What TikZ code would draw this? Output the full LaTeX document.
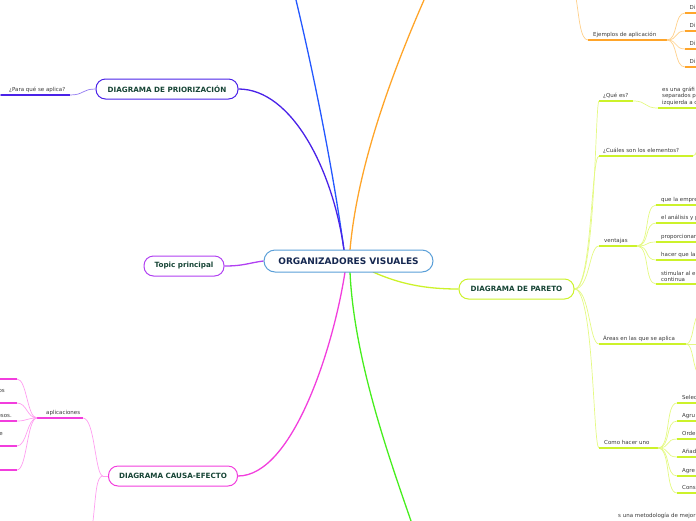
\documentclass[tikz,border=0pt]{standalone}
\usepackage{fontspec}
\setmainfont{DejaVu Sans}
\usetikzlibrary{backgrounds}
\definecolor{cBlue}{HTML}{2458FF}
\definecolor{cOrange}{HTML}{FFA52A}
\definecolor{cOrangeL}{HTML}{FFD08A}
\definecolor{cIndigo}{HTML}{4A22E8}
\definecolor{cViolet}{HTML}{B140F2}
\definecolor{cMag}{HTML}{F23EDD}
\definecolor{cMagL}{HTML}{FF9EF0}
\definecolor{cGreen}{HTML}{47EE1E}
\definecolor{cYel}{HTML}{CCF22A}
\definecolor{cYelL}{HTML}{E4F982}
\definecolor{cCenter}{HTML}{5A9FD8}
\definecolor{titleGreen}{HTML}{174536}
\definecolor{titleNavy}{HTML}{152750}
\definecolor{txtGray}{HTML}{3A3A3A}
\begin{document}
\begin{tikzpicture}[x=1pt,y=-1pt,
  topic/.style={draw, fill=white, rounded corners=9.5pt, line width=1pt, minimum height=20pt, inner sep=0pt, font=\bfseries\fontsize{7.2}{8}\selectfont, text=titleGreen},
  lbl/.style={inner sep=0pt, anchor=base west, font=\fontsize{5.5}{6.5}\selectfont, text=txtGray},
  lblr/.style={lbl, anchor=base east},
  lblml/.style={lbl, anchor=south west, align=left},
  bline/.style={line width=1.3pt},
  uline/.style={line width=1.5pt},
  thin/.style={line width=0.7pt}]
\useasboundingbox (0,0) rectangle (696,520);
\clip (0,0) rectangle (696,520);

% ---------- main topics ----------
\node[topic, draw=cCenter, text=titleNavy, minimum width=169pt, minimum height=22pt, rounded corners=11pt, font=\bfseries\fontsize{9}{10}\selectfont] (C) at (348.5,261) {ORGANIZADORES VISUALES};
\node[topic, draw=cIndigo, minimum width=142pt] (PR) at (167,89) {DIAGRAMA DE PRIORIZACIÓN};
\node[topic, draw=cViolet, minimum width=80pt] (TP) at (184,266) {Topic principal};
\node[topic, draw=cMag, minimum width=129pt] (CE) at (173,476) {DIAGRAMA CAUSA-EFECTO};
\node[topic, draw=cYel, minimum width=115pt] (P) at (516.5,289) {DIAGRAMA DE PARETO};

% ---------- coordinates ----------
\coordinate (cT1) at (344,250);
\coordinate (cT2) at (350,250);
\coordinate (cB1) at (345,272);
\coordinate (cB2) at (350,272);
\coordinate (cB3) at (373,272);
\coordinate (bTop) at (296,0);
\coordinate (oTop) at (424,0);
\coordinate (gBot) at (411,521);

% Priorizacion child
\coordinate (pa1) at (1,95); \coordinate (pa2) at (70,95);
\coordinate (paX1) at (-8,88); \coordinate (paX2) at (-8,102);

% Pareto first level
\coordinate (q1) at (599,101); \coordinate (q2) at (633,101);
\coordinate (qa1) at (658,108); \coordinate (qa2) at (697,108);
\coordinate (e1) at (599,156); \coordinate (e2) at (693,156); \coordinate (eX) at (700,142);
\coordinate (v1) at (599,246); \coordinate (v2) at (637,246);
\coordinate (a1) at (599,344); \coordinate (a2) at (686,344);
\coordinate (aX1) at (700,312); \coordinate (aX2) at (700,344); \coordinate (aX3) at (700,376);
\coordinate (h1) at (599,448); \coordinate (h2) at (658,448);

% Orange
\coordinate (ej1) at (588,40); \coordinate (ej2) at (667,40); \coordinate (ejTop) at (576,-2);

% Causa
\coordinate (ce0) at (103,476);
\coordinate (ap1) at (37,418); \coordinate (ap2) at (83,418);
\coordinate (ceBot) at (93,521);

% ---------- labels ----------
\node[lbl] (tPara) at (9,91) {¿Para qué se aplica?};
\node[lbl] (tQue) at (603,97) {¿Qué es?};
\node[lblml] (tQueA) at (662,105.5) {es una gráfi\\separados p\\izquierda a c};
\node[lbl] (tCual) at (603,152) {¿Cuáles son los elementos?};
\node[lbl] (tVen) at (604,242) {ventajas};
\node[lbl] (tV1) at (661,201) {que la empre};
\node[lbl] (tV2) at (661,219) {el análisis y p};
\node[lbl] (tV3) at (661,238) {proporcionar};
\node[lbl] (tV4) at (661,256) {hacer que la};
\node[lblml] (tV5) at (661,282) {stimular al e\\continua};
\node[lbl] (tAre) at (603,340) {Áreas en las que se aplica};
\node[lbl] (tCom) at (604,444) {Como hacer uno};
\node[lbl] (tH1) at (682,399) {Selec};
\node[lbl] (tH2) at (682,417) {Agru};
\node[lbl] (tH3) at (682,435) {Orde};
\node[lbl] (tH4) at (682,453) {Añad};
\node[lbl] (tH5) at (682,472) {Agre};
\node[lbl] (tH6) at (682,489) {Cons};
\node[lbl] (tEj) at (593,36) {Ejemplos de aplicación};
\node[lbl] (tD1) at (689.5,9) {Di};
\node[lbl] (tD2) at (689.5,27) {Di};
\node[lbl] (tD3) at (689.5,45) {Di};
\node[lbl] (tD4) at (689.5,63) {Di};
\node[lbl] (tApl) at (46,414) {aplicaciones};
\node[lblr] (tF1) at (5,392) {os};
\node[lblr] (tF2) at (12,417) {esos.};
\node[lblr] (tF3) at (3,435) {e};
\node[lbl] (tBot) at (618,517) {s una metodología de mejor};

\begin{pgfonlayer}{background}
% ---------- main branches ----------
\draw[cBlue, bline] (cT1) .. controls (333,170) and (314,75) .. (bTop);
\draw[cOrange, bline] (cT2) .. controls (357,170) and (389,80) .. (oTop);
\draw[cIndigo, bline] (PR.east) .. controls (292,89) and (333,170) .. (cT1);
\draw[cViolet, bline] (TP.east) .. controls (244,266) and (248,263) .. (C.west);
\draw[cMag, bline] (CE.east) .. controls (292,476) and (333,350) .. (cB1);
\draw[cGreen, bline] (cB2) .. controls (354,360) and (390,460) .. (gBot);
\draw[cYel, bline] (cB3) .. controls (400,284) and (425,289) .. (P.west);

% ---------- Priorizacion ----------
\draw[cIndigo, uline] (pa1) -- (pa2);
\draw[cIndigo!60, thin] (pa2) .. controls (84,95) and (82,89) .. (PR.west);
\draw[cIndigo!60, thin] (pa1) .. controls (-3,95) and (-3,88) .. (paX1);
\draw[cIndigo!60, thin] (pa1) .. controls (-3,95) and (-3,102) .. (paX2);

% ---------- Pareto ----------
\draw[cYelL, thin] (P.east) .. controls (596,289) and (595,101) .. (q1);
\draw[cYelL, thin] (P.east) .. controls (592,289) and (591,156) .. (e1);
\draw[cYelL, thin] (P.east) .. controls (590,289) and (589,246) .. (v1);
\draw[cYelL, thin] (P.east) .. controls (590,289) and (589,344) .. (a1);
\draw[cYelL, thin] (P.east) .. controls (594,289) and (593,448) .. (h1);
\draw[cYel, uline] (q1) -- (q2);
\draw[cYel, uline] (e1) -- (e2);
\draw[cYel, uline] (v1) -- (v2);
\draw[cYel, uline] (a1) -- (a2);
\draw[cYel, uline] (h1) -- (h2);
% que es
\draw[cYelL, thin] (q2) .. controls (648,101) and (643,108) .. (qa1);
\draw[cYel, uline] (qa1) -- (qa2);
% cuales
\draw[cYelL, thin] (e2) .. controls (697,156) and (697,146) .. (eX);
% areas
\draw[cYelL, thin] (a2) .. controls (694,344) and (692,318) .. (aX1);
\draw[cYelL, thin] (a2) -- (aX2);
\draw[cYelL, thin] (a2) .. controls (694,344) and (692,370) .. (aX3);
% ventajas children
\foreach \yy/\nm in {205/v-a,223/v-b,242/v-c,260/v-d,284/v-e}{
  \coordinate (\nm-1) at (656,\yy); \coordinate (\nm-2) at (697,\yy);
  \draw[cYelL, thin] (v2) .. controls (650,246) and (644,\yy) .. (\nm-1);
  \draw[cYel, uline] (\nm-1) -- (\nm-2);
}
% como hacer uno children
\foreach \yy/\nm in {403/h-a,421/h-b,439/h-c,457/h-d,476/h-e,493/h-f}{
  \coordinate (\nm-1) at (677,\yy); \coordinate (\nm-2) at (697,\yy);
  \draw[cYelL, thin] (h2) .. controls (671,448) and (665,\yy) .. (\nm-1);
  \draw[cYel, uline] (\nm-1) -- (\nm-2);
}

% ---------- Orange: ejemplos ----------
\draw[cOrangeL, thin] (ej1) .. controls (580,40) and (579,15) .. (ejTop);
\draw[cOrange, uline] (ej1) -- (ej2);
\foreach \yy/\nm in {13/d-a,31/d-b,49/d-c,67/d-d}{
  \coordinate (\nm-1) at (685,\yy); \coordinate (\nm-2) at (697,\yy);
  \draw[cOrangeL, thin] (ej2) .. controls (678,40) and (674,\yy) .. (\nm-1);
  \draw[cOrange, uline] (\nm-1) -- (\nm-2);
}

% ---------- Causa-efecto ----------
\draw[cMagL, thin] (CE.west) -- (ce0);
\draw[cMagL, thin] (ce0) .. controls (95,476) and (95,418) .. (ap2);
\draw[cMagL, thin] (ce0) .. controls (96,476) and (96,495) .. (ceBot);
\draw[cMag, uline] (ap1) -- (ap2);
\foreach \yy/\nm in {379/m-a,403/m-b,421/m-c,446/m-d,470/m-e}{
  \coordinate (\nm-1) at (17,\yy); \coordinate (\nm-2) at (-1,\yy);
  \draw[cMagL, thin] (ap1) .. controls (27,418) and (27,\yy) .. (\nm-1);
  \draw[cMag, uline] (\nm-1) -- (\nm-2);
}
\end{pgfonlayer}
\end{tikzpicture}
\end{document}
